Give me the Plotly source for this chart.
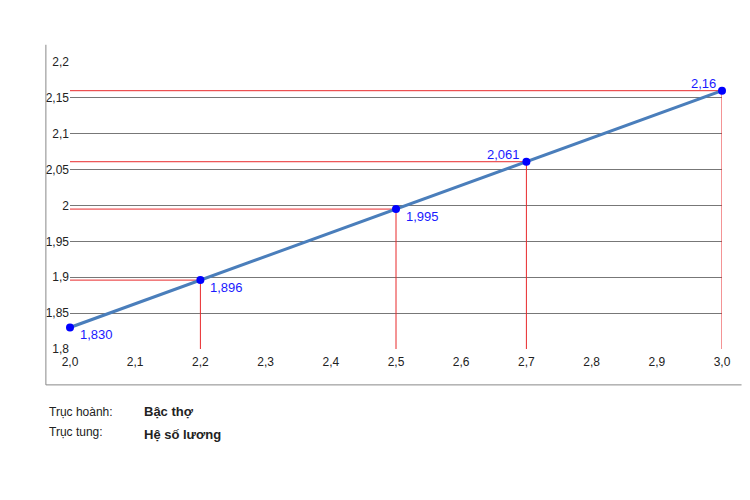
import plotly.graph_objects as go

bac_tho = [2.0, 2.2, 2.5, 2.7, 3.0]
he_so = [1.830, 1.896, 1.995, 2.061, 2.16]
labels = ["1,830", "1,896", "1,995", "2,061", "2,16"]
label_pos = [("left", "top", 8, 2), ("left", "top", 8, 2), ("left", "top", 8, 2),
             ("right", "bottom", -4, -2), ("right", "bottom", -4, -2)]

fig = go.Figure()

# red guide lines from axes to each point
for x, y in zip(bac_tho[1:], he_so[1:]):
    fig.add_trace(go.Scatter(x=[2.0, x], y=[y, y], mode="lines",
                             line=dict(color="#e8292b", width=1), hoverinfo="skip"))
    fig.add_trace(go.Scatter(x=[x, x], y=[1.8, y], mode="lines",
                             line=dict(color="#e8292b", width=1), hoverinfo="skip"))

fig.add_trace(go.Scatter(x=bac_tho, y=he_so, mode="lines+markers", cliponaxis=False,
                         line=dict(color="#4a7ebb", width=3),
                         marker=dict(color="#0000ff", size=8)))

for x, y, t, (xa, ya, dx, dy) in zip(bac_tho, he_so, labels, label_pos):
    fig.add_annotation(x=x, y=y, text=t, showarrow=False, xanchor=xa, yanchor=ya,
                       xshift=dx, yshift=dy, font=dict(color="#1a1aff", size=13))

fig.add_annotation(xref="paper", yref="paper", x=-0.035, y=-0.25, xanchor="left",
                   text="Trục hoành:", showarrow=False, font=dict(size=12, color="#222"))
fig.add_annotation(xref="paper", yref="paper", x=0.11, y=-0.25, xanchor="left",
                   text="<b>Bậc thợ</b>", showarrow=False, font=dict(size=13, color="#222"))
fig.add_annotation(xref="paper", yref="paper", x=-0.035, y=-0.32, xanchor="left",
                   text="Trục tung:", showarrow=False, font=dict(size=12, color="#222"))
fig.add_annotation(xref="paper", yref="paper", x=0.11, y=-0.33, xanchor="left",
                   text="<b>Hệ số lương</b>", showarrow=False, font=dict(size=13, color="#222"))

# chart frame lines
fig.add_shape(type="line", xref="paper", yref="paper", x0=-0.037, x1=-0.037, y0=-0.125, y1=1.06,
              line=dict(color="#888", width=1))
fig.add_shape(type="line", xref="paper", yref="paper", x0=-0.037, x1=1.03, y0=-0.125, y1=-0.125,
              line=dict(color="#888", width=1))

fig.update_layout(
    width=750, height=500, showlegend=False, separators=", ",
    margin=dict(l=62, r=36, t=54, b=159),
    paper_bgcolor="white", plot_bgcolor="white",
    font=dict(family="Liberation Sans, Arial", size=12, color="#222"),
    xaxis=dict(range=[2.0, 3.0], dtick=0.1, tickformat=".1f", showgrid=False,
               zeroline=False, ticks="", ticklabelstandoff=4),
    yaxis=dict(range=[1.8, 2.2], dtick=0.05, showgrid=True, gridcolor="#777",
               gridwidth=1, zeroline=False, ticks=""),
)

fig.write_html("out.html")
